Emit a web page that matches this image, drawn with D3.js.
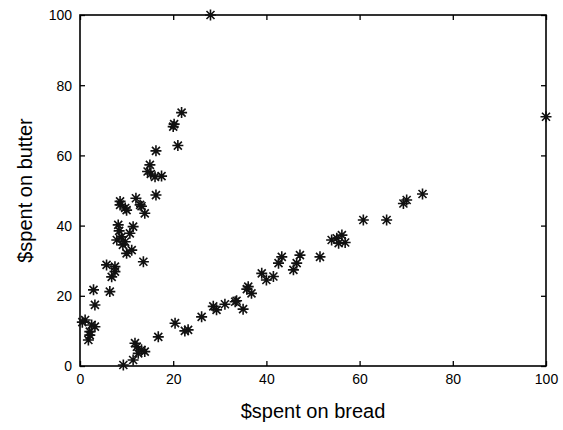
<!DOCTYPE html>
<html><head><meta charset="utf-8">
<script src="https://cdn.jsdelivr.net/npm/d3@7"></script>
<style>body{margin:0;background:#fff}svg{display:block}</style>
</head><body>
<svg id="c" width="563" height="430"></svg>
<script>
const breadSpent = [
  28, 100,
  21.8, 20.2, 20.0, 21.0, 16.3, 15.0, 15.2, 14.5, 17.5, 16.1, 16.3, 12.0, 8.6, 9.7, 13.2, 13.9,
  8.6, 10.0, 12.9, 8.2, 11.4, 8.9, 7.9, 9.7, 10.7, 10.0, 11.1, 13.6, 5.7, 7.5, 6.8, 7.5, 6.4,
  2.9, 3.2, 1.1, 2.5, 3.2, 2.1, 1.8, 2.1, 0.5, 9.2, 8.4,
  9.3, 11.4, 12.5, 13.2, 12.2, 13.9, 11.8, 16.8, 20.4, 23.2, 22.5, 26.1, 28.6, 29.3, 31.1, 33.6, 35.0,
  35.8, 33.3, 36.1, 36.8, 39.0, 40.0, 41.5, 43.3, 42.6, 47.2, 45.8, 46.5, 51.5, 55.1, 56.9, 56.2,
  54.0, 55.5, 60.8, 65.8, 69.4, 70.1, 73.5
];
const butterSpent = [
  100, 71,
  72.2, 68.9, 68.2, 62.8, 61.3, 57.3, 54.7, 55.4, 54.1, 53.9, 48.7, 47.8, 46.9, 45.0, 45.5, 43.5,
  45.9, 44.4, 45.9, 40.2, 39.7, 36.8, 35.9, 35.4, 37.8, 32.1, 33.0, 29.7, 28.8, 28.3, 25.4, 26.9, 21.2,
  21.7, 17.4, 13.1, 11.7, 11.2, 9.8, 7.4, 8.8, 12.5, 34.5, 38.5,
  0.3, 1.7, 3.6, 4.6, 5.5, 4.1, 6.5, 8.3, 12.2, 10.3, 10.0, 14.0, 17.0, 16.0, 17.6, 18.6, 16.2,
  21.9, 18.3, 22.6, 20.7, 26.4, 24.5, 25.5, 31.1, 29.3, 31.6, 27.4, 29.3, 31.1, 36.4, 35.2, 37.3,
  35.9, 35.0, 41.6, 41.6, 46.3, 47.3, 49.0
];
const xTicks = [0, 20, 40, 60, 80, 100];
const yTicks = [0, 20, 40, 60, 80, 100];
const xLabel = "$spent on bread";
const yLabel = "$spent on butter";

const svg = d3.select("#c");
const L = 80, R = 546, T = 15, B = 366;
const x = d3.scaleLinear().domain([0, 100]).range([L, R]);
const y = d3.scaleLinear().domain([0, 100]).range([B, T]);
const font = "'Liberation Sans', Arial, sans-serif";

// ticks inside on all four sides
const tk = 5;
const axB = d3.axisBottom(x).tickValues(xTicks).tickSizeInner(-tk).tickSizeOuter(0).tickPadding(8);
const axL = d3.axisLeft(y).tickValues(yTicks).tickSizeInner(-tk).tickSizeOuter(0).tickPadding(8);
const gB = svg.append("g").attr("transform", `translate(0,${B})`).call(axB);
const gL = svg.append("g").attr("transform", `translate(${L},0)`).call(axL);
const gT = svg.append("g").attr("transform", `translate(0,${T})`).call(d3.axisTop(x).tickValues(xTicks).tickSizeInner(-tk).tickSizeOuter(0).tickFormat(""));
const gR = svg.append("g").attr("transform", `translate(${R},0)`).call(d3.axisRight(y).tickValues(yTicks).tickSizeInner(-tk).tickSizeOuter(0).tickFormat(""));
[gB, gL, gT, gR].forEach(g => {
  g.select(".domain").remove();
  g.selectAll(".tick line").attr("stroke", "#000").attr("stroke-width", 1.3);
  g.selectAll("text").attr("fill", "#000").style("font-family", font).style("font-size", "14px");
});
gL.selectAll("text").attr("dy", "0.35em");

svg.append("rect").attr("x", L).attr("y", T).attr("width", R - L).attr("height", B - T)
  .attr("fill", "none").attr("stroke", "#000").attr("stroke-width", 1.6);

// asterisk markers
const a = 5.5, d = 4;
const star = `M${-a},0H${a}M0,${-a}V${a}M${-d},${-d}L${d},${d}M${-d},${d}L${d},${-d}`;
svg.append("g").selectAll("path").data(breadSpent.map((v, i) => [v, butterSpent[i]]))
  .join("path")
  .attr("transform", p => `translate(${x(p[0])},${y(p[1])})`)
  .attr("d", star).attr("fill", "none").attr("stroke", "#111").attr("stroke-width", 1.6);

svg.append("text").attr("x", (L + R) / 2).attr("y", 418).attr("text-anchor", "middle")
  .style("font-family", font).style("font-size", "20px").text(xLabel);
svg.append("text").attr("transform", `translate(32,${(T + B) / 2}) rotate(-90)`).attr("text-anchor", "middle")
  .style("font-family", font).style("font-size", "20px").text(yLabel);
</script>
</body></html>
